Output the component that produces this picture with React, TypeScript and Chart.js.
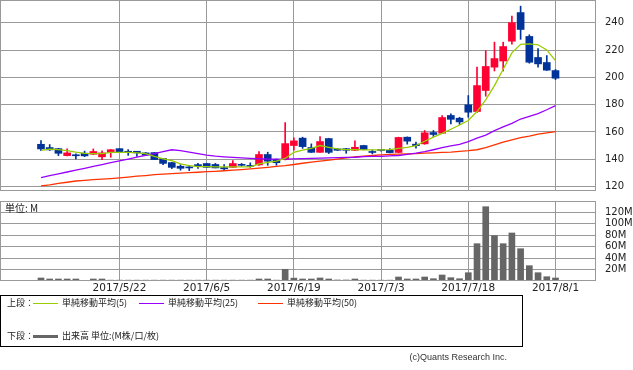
import React, { useEffect, useRef } from "react";
import { Chart, registerables } from "chart.js";
Chart.register(...registerables);

// trading days (categories)
const dates = [
  "2017/5/9","2017/5/10","2017/5/11","2017/5/12","2017/5/15","2017/5/16","2017/5/17","2017/5/18","2017/5/19",
  "2017/5/22","2017/5/23","2017/5/24","2017/5/25","2017/5/26","2017/5/29","2017/5/30","2017/5/31",
  "2017/6/1","2017/6/2","2017/6/5","2017/6/6","2017/6/7","2017/6/8","2017/6/9","2017/6/12","2017/6/13",
  "2017/6/14","2017/6/15","2017/6/16","2017/6/19","2017/6/20","2017/6/21","2017/6/22","2017/6/23",
  "2017/6/26","2017/6/27","2017/6/28","2017/6/29","2017/6/30",
  "2017/7/3","2017/7/4","2017/7/5","2017/7/6","2017/7/7","2017/7/10","2017/7/11","2017/7/12","2017/7/13",
  "2017/7/14","2017/7/18","2017/7/19","2017/7/20","2017/7/21","2017/7/24","2017/7/25","2017/7/26",
  "2017/7/27","2017/7/28","2017/7/31","2017/8/1",
];
const tickIndices = [9, 19, 29, 39, 49, 59];

const opens = [151.0,148.6,147.8,142.7,142.9,144.5,143.7,141.8,145.0,147.8,145.9,145.9,144.7,144.9,140.6,137.6,134.9,133.9,136.1,136.9,136.2,133.9,134.1,136.1,135.0,135.9,143.5,140.0,139.8,150.1,155.5,148.6,145.1,155.2,147.6,147.8,146.6,150.1,145.3,146.8,146.6,145.0,156.2,151.1,151.3,159.6,159.1,172.1,170.1,179.9,175.0,190.4,207.5,212.0,226.5,247.5,230.0,214.6,210.9,205.0];
const highs = [153.7,150.8,148.0,147.6,144.0,146.0,147.6,146.2,147.2,147.8,147.1,145.9,145.0,145.0,140.8,137.8,136.1,135.4,137.1,137.0,137.0,136.1,139.1,137.0,137.4,145.7,145.2,140.2,166.9,155.7,156.2,151.3,156.6,155.4,147.8,148.0,153.5,150.3,146.9,147.2,147.8,156.2,156.4,152.6,161.1,161.1,172.1,173.3,170.8,186.7,207.5,219.5,225.8,225.8,244.9,252.2,231.2,221.2,216.0,205.8];
const lows = [146.4,146.5,142.7,142.5,140.2,142.0,143.5,139.8,141.5,145.0,142.9,142.2,143.0,139.8,136.0,133.2,132.0,131.7,133.4,134.0,133.7,131.7,134.0,135.0,134.1,135.5,135.6,135.6,139.6,146.6,148.0,145.0,145.0,144.2,146.4,144.4,146.4,147.0,144.0,146.0,144.7,144.9,151.1,148.1,151.0,156.7,158.8,166.0,165.5,170.8,174.3,186.2,204.7,204.7,224.3,227.9,210.4,207.5,205.0,198.4];
const closes = [147.6,146.9,144.4,144.7,142.6,142.5,145.7,144.7,147.0,145.0,144.9,144.7,143.0,139.8,137.0,134.1,133.4,133.7,135.2,134.1,133.7,133.0,136.9,135.6,134.8,143.5,138.6,137.5,151.5,153.5,149.3,145.1,153.0,145.1,146.6,146.6,148.8,147.2,145.0,146.5,144.9,156.0,153.3,150.0,159.4,158.2,170.6,169.3,167.4,174.5,194.0,208.0,213.8,222.6,240.1,235.1,211.1,209.9,205.3,199.4];

const ma5 = [146.6,147.4,147.1,146.4,145.2,144.3,144.2,144.2,145.0,145.1,145.1,144.7,144.2,142.2,140.4,139.1,136.6,135.4,134.7,134.6,134.4,134.4,134.4,134.4,134.4,136.6,137.8,138.6,140.6,145.1,146.8,148.0,150.1,148.8,147.6,147.1,147.1,146.9,146.9,146.9,147.1,148.0,148.8,150.1,153.2,156.2,159.0,162.0,165.1,168.4,175.0,183.5,194.0,206.0,218.0,224.2,224.6,223.9,220.1,212.3];
const ma25 = [126.6,128.0,129.3,130.7,132.0,133.4,134.8,136.1,137.5,138.9,140.2,141.6,142.9,144.2,145.6,147.0,146.3,145.3,144.1,143.0,142.3,141.8,141.4,141.0,140.7,140.4,140.2,140.2,140.2,140.3,140.5,140.7,140.9,141.0,141.2,141.4,141.5,142.0,142.1,142.2,142.5,142.8,143.6,144.5,145.6,147.0,148.5,149.8,151.0,153.0,155.5,157.7,161.0,163.8,166.3,169.5,171.5,173.5,176.3,179.3];
const ma50 = [120.5,121.3,122.3,123.2,124.1,124.6,125.1,125.5,125.9,126.4,127.0,127.6,128.1,128.7,129.2,129.5,129.8,130.2,130.5,130.9,131.2,131.6,132.0,132.5,133.0,133.5,134.1,134.8,135.4,136.2,137.1,138.0,138.7,139.4,140.2,141.0,141.7,142.4,142.8,143.3,143.6,143.8,144.0,144.2,144.5,144.7,145.0,145.3,145.8,146.3,147.0,148.5,150.5,152.5,154.2,155.8,157.0,158.4,159.4,160.3];

// volume in millions
const volumes = [5.25,3.5,3.5,3.5,3.5,1.2,3.5,3.5,1.5,1.5,1.5,1.5,1.5,1.5,1.5,1.5,1.5,1.5,1.5,1.5,1.5,1.5,1.5,1.5,1.5,3.5,3.5,1.5,20.5,5.0,3.5,3.5,5.25,3.5,1.75,1.75,3.5,1.5,1.5,1.5,1.5,7.0,3.5,3.5,7.0,4.0,10.5,5.8,4.0,14.5,65.3,130.0,79.3,65.3,84.0,56.5,26.8,14.5,7.5,5.25];

const priceTicks = [120, 140, 160, 180, 200, 220, 240];
const volumeTicks = [20, 40, 60, 80, 100, 120];

const UP = "#ff0033";
const DOWN = "#003399";
const GRID = "#999999";
const TICK_FONT = { family: "DejaVu Sans", size: 10 };

const framePlugin = (bottomInset: number) => ({
  id: "frame",
  afterDraw(chart: any) {
    const { ctx, chartArea: a } = chart;
    ctx.save();
    ctx.strokeStyle = GRID;
    ctx.lineWidth = 1;
    ctx.strokeRect(
      Math.round(a.left) + 0.5,
      Math.round(a.top) + 0.5,
      Math.round(a.right - a.left),
      Math.round(a.bottom - a.top) - bottomInset
    );
    ctx.restore();
  },
});

const xScale = (showLabels: boolean) => ({
  type: "linear" as const,
  min: -4.7,
  max: 63.53,
  offset: false,
  grid: { offset: false, color: GRID, lineWidth: 1, drawTicks: false },
  border: { display: false },
  ticks: {
    display: showLabels,
    autoSkip: false,
    maxRotation: 0,
    minRotation: 0,
    padding: 1,
    color: "#222",
    font: { family: "DejaVu Sans", size: 10.5 },
    callback: (v: any) => dates[v as number] ?? "",
  },
  afterBuildTicks: (s: any) => {
    s.ticks = tickIndices.map((v) => ({ value: v }));
  },
  afterFit: (s: any) => {
    s.height = showLabels ? 19 : 0;
    s.paddingLeft = 0;
    s.paddingRight = 0;
  },
});

export default function App() {
  const mainRef = useRef<HTMLCanvasElement>(null);
  const volRef = useRef<HTMLCanvasElement>(null);

  useEffect(() => {
    const colors = opens.map((o, i) => (closes[i] >= o ? UP : DOWN));
    const lineDs = (label: string, values: number[], color: string) =>
      ({ type: "line", label, data: values.map((v, i) => ({ x: i, y: v })), borderColor: color, borderWidth: 1.3, pointRadius: 0, tension: 0, order: 0 } as any);
    const main = new Chart(mainRef.current!, {
      type: "bar",
      data: {
        datasets: [
          lineDs("単純移動平均(5)", ma5, "#99cc00"),
          lineDs("単純移動平均(25)", ma25, "#9900ff"),
          lineDs("単純移動平均(50)", ma50, "#ff3300"),
          { type: "bar", label: "body", data: opens.map((o, i) => ({ x: i, y: [o, closes[i]] })), backgroundColor: colors, barThickness: 7, minBarLength: 1, grouped: false, borderWidth: 0, order: 1 } as any,
          { type: "bar", label: "wick", data: lows.map((l, i) => ({ x: i, y: [l, highs[i]] })), backgroundColor: colors, barThickness: 1, grouped: false, borderWidth: 0, order: 2 } as any,
        ],
      },
      options: {
        animation: false,
        responsive: false,
        maintainAspectRatio: false,
        layout: { padding: { left: 0, top: 0, right: 0, bottom: 6 } },
        plugins: { legend: { display: false }, tooltip: { enabled: false } },
        scales: {
          x: xScale(false) as any,
          y: {
            type: "linear",
            position: "right",
            min: 117.51,
            max: 256.7,
            grid: { color: GRID, lineWidth: 1, drawTicks: false },
            border: { display: false },
            ticks: { padding: 10, color: "#222", font: TICK_FONT },
            afterBuildTicks: (s: any) => {
              s.ticks = priceTicks.map((v) => ({ value: v }));
            },
            afterFit: (s: any) => {
              s.width = 38;
              s.paddingTop = 0;
              s.paddingBottom = 0;
            },
          } as any,
        },
      },
      plugins: [framePlugin(0)],
    });

    const vol = new Chart(volRef.current!, {
      type: "bar",
      data: {
        datasets: [
          { label: "出来高", data: volumes.map((v, i) => ({ x: i, y: v })), backgroundColor: "#666666", barThickness: 6, grouped: false, borderWidth: 0 } as any,
        ],
      },
      options: {
        animation: false,
        responsive: false,
        maintainAspectRatio: false,
        layout: { padding: { left: 0, top: 5, right: 0, bottom: 0 } },
        plugins: { legend: { display: false }, tooltip: { enabled: false } },
        scales: {
          x: xScale(true) as any,
          y: {
            type: "linear",
            position: "right",
            min: 0,
            max: 140,
            grid: { color: GRID, lineWidth: 1, drawTicks: false },
            border: { display: false },
            ticks: { padding: 10, color: "#222", font: TICK_FONT, callback: (v: any) => `${v}M` },
            afterBuildTicks: (s: any) => {
              s.ticks = volumeTicks.map((v) => ({ value: v }));
            },
            afterFit: (s: any) => {
              s.width = 38;
              s.paddingTop = 0;
              s.paddingBottom = 0;
            },
          } as any,
        },
      },
      plugins: [framePlugin(1)],
    });

    return () => {
      main.destroy();
      vol.destroy();
    };
  }, []);

  const legendText: React.CSSProperties = {
    position: "absolute",
    fontFamily: "'Noto Sans CJK JP', sans-serif",
    fontSize: 9,
    lineHeight: "12px",
    color: "#222",
    whiteSpace: "nowrap",
  };

  return (
    <div style={{ position: "absolute", left: 0, top: 0, width: 633, height: 370, background: "#fff", overflow: "hidden" }}>
      <canvas ref={mainRef} width={633} height={196} style={{ position: "absolute", left: 0, top: 0, display: "block" }} />
      <canvas ref={volRef} width={633} height={104} style={{ position: "absolute", left: 0, top: 196, display: "block" }} />
      <div style={{ ...legendText, left: 5, top: 202, fontSize: 10, color: "#222" }}>単位: M</div>
      <div style={{ position: "absolute", left: 0, top: 295, width: 523, height: 52, boxSizing: "border-box", border: "1px solid #000" }} />
      <div style={{ ...legendText, left: 7, top: 297 }}>上段：</div>
      <div style={{ position: "absolute", left: 33, top: 303, width: 25, height: 1, background: "#99cc00" }} />
      <div style={{ ...legendText, left: 62, top: 297 }}>単純移動平均(5)</div>
      <div style={{ position: "absolute", left: 139, top: 303, width: 25, height: 1, background: "#9900ff" }} />
      <div style={{ ...legendText, left: 168, top: 297 }}>単純移動平均(25)</div>
      <div style={{ position: "absolute", left: 258, top: 303, width: 25, height: 1, background: "#ff3300" }} />
      <div style={{ ...legendText, left: 287, top: 297 }}>単純移動平均(50)</div>
      <div style={{ ...legendText, left: 7, top: 330 }}>下段：</div>
      <div style={{ position: "absolute", left: 33, top: 335, width: 25, height: 3, background: "#666666" }} />
      <div style={{ ...legendText, left: 62, top: 330 }}>出来高 単位:(M株/口/枚)</div>
      <div style={{ position: "absolute", right: 126, top: 351, fontFamily: "'Liberation Sans', sans-serif", fontSize: 9, lineHeight: "12px", color: "#333", whiteSpace: "nowrap" }}>
        (c)Quants Research Inc.
      </div>
    </div>
  );
}
